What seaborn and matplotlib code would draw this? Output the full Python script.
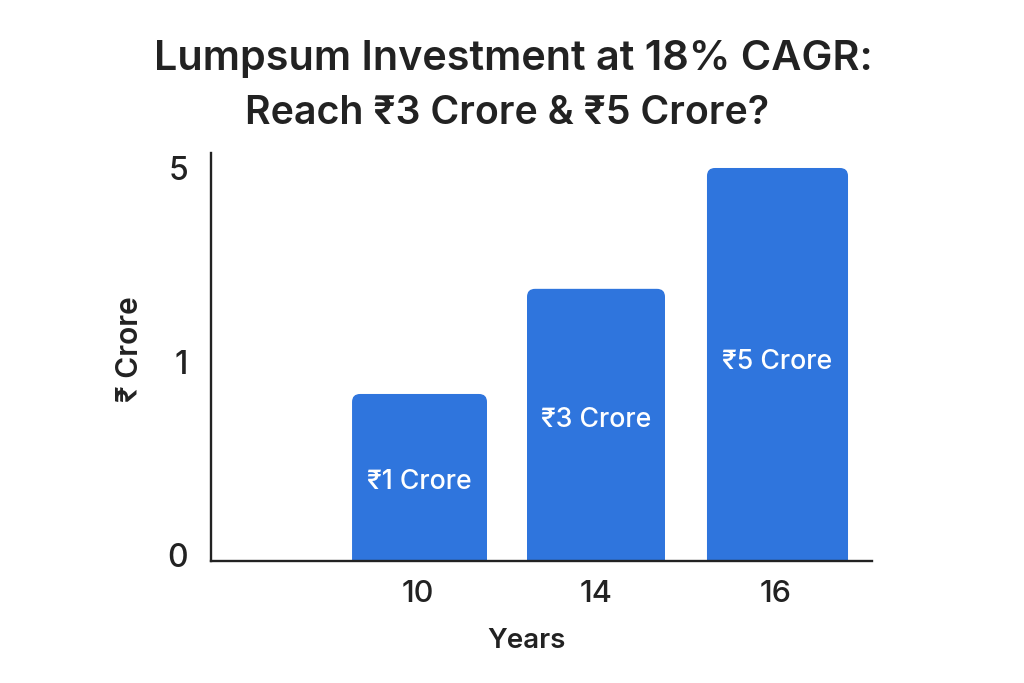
import numpy as np
import pandas as pd
import matplotlib
matplotlib.use("Agg")
import matplotlib.pyplot as plt
from matplotlib.patches import FancyBboxPatch
from matplotlib.transforms import IdentityTransform, ScaledTranslation
import seaborn as sns

years = ["", "10", "14", "16"]
crore = [0, 0.85, 2.54, 5]
bar_labels = ["", "₹1 Crore", "₹3 Crore", "₹5 Crore"]
y_ticks = [0, 1, 5]
y_knots = [0, 1, 5, 9]
y_pos = [0, 1, 2, 3]

sns.set_theme(style="white")
plt.rcParams['font.family'] = ['Inter', 'Roboto', 'DejaVu Sans']
INK = "#222222"
BLUE = "#2f75dd"
W, H = 1024, 683
fig = plt.figure(figsize=(W/100, H/100), dpi=100)
L, R, T, B = 211, 872, 153, 561
ax = fig.add_axes([L/W, 1-B/H, (R-L)/W, (B-T)/H])
df = pd.DataFrame({"Years": years, "Crore": crore})
ax.set_yscale("function", functions=(lambda v: np.interp(v, y_knots, y_pos),
                                     lambda p: np.interp(p, y_pos, y_knots)))
sns.barplot(data=df, x="Years", y="Crore", order=years, color=BLUE, saturation=1, width=0.77, ax=ax)
ax.set_xlim(-0.165, 3.528)
ax.set_ylim(0, 5.305)
ax.set_yticks(y_ticks)
ax.set_yticklabels([str(t) for t in y_ticks], fontsize=23, color=INK, fontweight="medium")
ax.set_xticks([0.992, 1.985, 2.99])
ax.set_xticklabels(years[1:], fontsize=22, color=INK, fontweight="medium")
ax.tick_params(axis="both", length=0)
ax.tick_params(axis="x", pad=13.5)
ax.tick_params(axis="y", pad=16.5)
ax.set_xlabel("Years", fontsize=20, color=INK, fontweight="semibold")
ax.set_ylabel("₹ Crore", fontsize=21.5, color=INK, fontweight="semibold")
ax.xaxis.set_label_coords(0.478, -0.165)
ax.yaxis.set_label_coords(-0.101, 0.52)
for s in ("top", "right"):
    ax.spines[s].set_visible(False)
for s in ("left", "bottom"):
    ax.spines[s].set_color(INK)
    ax.spines[s].set_linewidth(1.7)
    ax.spines[s].set_zorder(5)

# the reference's 0 and 1 labels sit a little above their levels
for lab, up in zip(ax.get_yticklabels(), [6, 2, 0]):
    lab.set_transform(lab.get_transform() + ScaledTranslation(0, up/100, fig.dpi_scale_trans))

# per-bar width and centre refinement, then rounded top corners
widths = [0.77, 0.754, 0.771, 0.788]
nudges = [0, 0, -0.014, 0]
label_rows = [0, 482, 420, 362]
fig.canvas.draw()
for patch, text, val, w, n, row in zip(list(ax.patches), bar_labels, crore, widths, nudges, label_rows):
    if val <= 0:
        patch.set_visible(False)
        continue
    cx = patch.get_x() + patch.get_width()/2 + n
    patch.set_x(cx - w/2)
    patch.set_width(w)
    bb = patch.get_window_extent()
    patch.set_visible(False)
    r = 8
    round_bar = FancyBboxPatch((bb.x0 + r, bb.y0 - 30), bb.width - 2*r, bb.height + 30 - r,
                               boxstyle=f"round,pad={r},rounding_size={r}",
                               transform=IdentityTransform(), facecolor=BLUE, edgecolor="none",
                               zorder=2)
    ax.add_patch(round_bar)
    round_bar.set_clip_box(ax.bbox)
    ax.text(cx, (B - row)/(B - T), text, color="white", fontsize=19.2, fontweight="medium",
            ha="center", va="center", transform=ax.get_xaxis_transform(), zorder=3)

fig.text(513/W, 1 - 59/H, "Lumpsum Investment at 18% CAGR:", ha="center", va="center",
         fontsize=29.8, fontweight="semibold", color=INK)
fig.text(507/W, 1 - 114/H, "Reach ₹3 Crore & ₹5 Crore?", ha="center", va="center",
         fontsize=28.3, fontweight="semibold", color=INK)
fig.savefig("out.png", dpi=100)
